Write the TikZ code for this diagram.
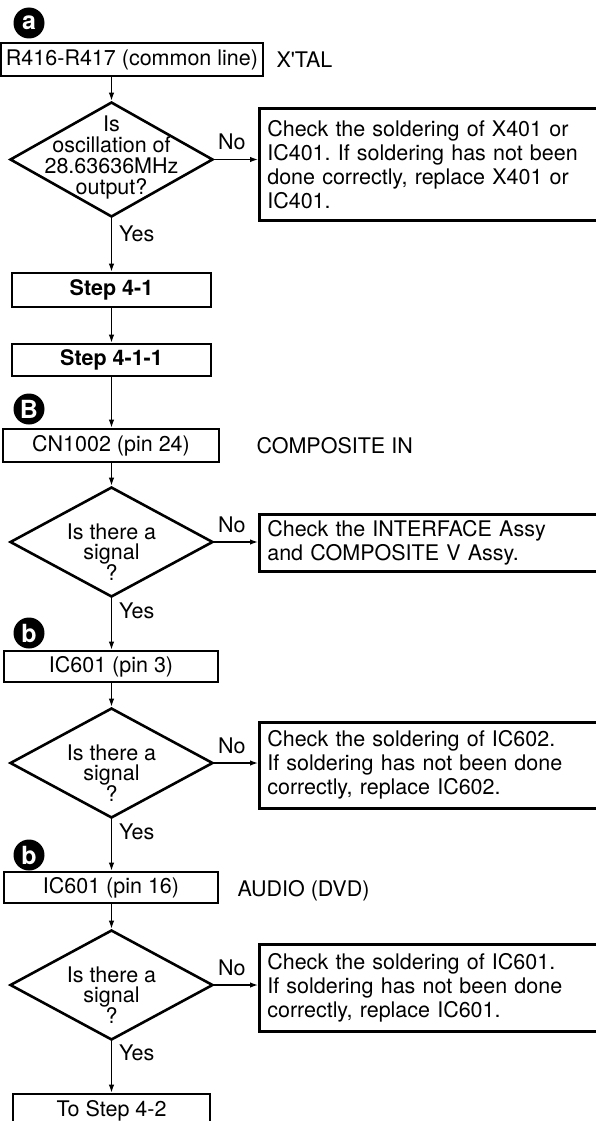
\documentclass[tikz,border=0pt]{standalone}
\usepackage{fontspec}
\setmainfont{TeX Gyre Heros}
\usetikzlibrary{arrows.meta,positioning,shapes.geometric}
\frenchspacing

\tikzset{
  stepbox/.style={draw, line width=2.6pt, inner sep=0pt, font=\fontsize{21.5}{24}\selectfont},
  checkbox/.style={draw, line width=2.6pt, anchor=north west, align=left, inner xsep=8pt,
    inner ysep=0pt, text width=344pt, font=\fontsize{21.5}{24}\selectfont},
  query/.style={diamond, draw, line width=2.6pt, inner sep=0pt, minimum width=203pt},
  querytext/.style={align=center, inner sep=0pt, font=\fontsize{21.5}{20.7}\selectfont},
  badge/.style={circle, fill=black, text=white, inner sep=0pt, minimum size=31pt,
    font=\fontsize{25}{25}\bfseries\selectfont},
  flow/.style={line width=1.3pt, -{Latex[length=8pt,width=5.5pt]}},
  lbl/.style={inner sep=0pt, font=\fontsize{21.5}{24}\selectfont},
}

\begin{document}
\begin{tikzpicture}[x=1pt,y=-1pt]
  \useasboundingbox (0,0) rectangle (596,1121);
  \clip (0,0) rectangle (596,1121);

  % crystal check
  \node[badge] (ba) at (29,23) {a};
  \node[stepbox, minimum width=262pt, minimum height=33pt] (r416) at (132,59.5) {R416-R417 (common line)};
  \node[lbl, right=12pt of r416] (xtal) {X\textquotesingle TAL};
  \node[query, minimum height=115pt] (d1) at (111.5,159.5) {};
  \node[querytext] (d1t) at ([yshift=2pt]d1.center) {Is\\oscillation of\\28.63636MHz\\output?};
  \node[checkbox, minimum height=112pt] (n1) at (258,107)
    {Check the soldering of X401 or\\IC401. If soldering has not been\\done correctly, replace X401 or\\IC401.};

  \node[stepbox, minimum width=199pt, minimum height=34pt] (s41) at (111.5,290) {\textbf{Step 4-1}};
  \node[stepbox, minimum width=199pt, minimum height=32pt] (s411) at (111.5,360) {\textbf{Step 4-1-1}};

  % composite in
  \node[badge] (bB) at (29,409) {B};
  \node[stepbox, minimum width=216pt, minimum height=33pt] (cn) at (111,445.5) {CN1002 (pin 24)};
  \node[lbl, right=36pt of cn] (comp) {COMPOSITE IN};
  \node[query, minimum height=110pt] (d2) at (111.5,542) {};
  \node[querytext] (d2t) at ([yshift=-10pt]d2.center) {Is there a\\signal\\?};
  \node[checkbox, minimum height=57pt] (n2) at (258,513)
    {Check the INTERFACE Assy\\and COMPOSITE V Assy.};

  % IC601 pin 3
  \node[badge] (bb1) at (29,633) {b};
  \node[stepbox, minimum width=214pt, minimum height=31pt] (ic3) at (111,666.5) {IC601 (pin 3)};
  \node[query, minimum height=110pt] (d3) at (111.5,763) {};
  \node[querytext] (d3t) at ([yshift=-10pt]d3.center) {Is there a\\signal\\?};
  \node[checkbox, minimum height=86pt] (n3) at (258,721)
    {Check the soldering of IC602.\\If soldering has not been done\\correctly, replace IC602.};

  % IC601 pin 16
  \node[badge] (bb2) at (29,855) {b};
  \node[stepbox, minimum width=214pt, minimum height=31pt] (ic16) at (111,887.5) {IC601 (pin 16)};
  \node[lbl, right=18pt of ic16, yshift=-3pt] (audio) {AUDIO (DVD)};
  \node[query, minimum height=110pt] (d4) at (111.5,985) {};
  \node[querytext] (d4t) at ([yshift=-10pt]d4.center) {Is there a\\signal\\?};
  \node[checkbox, minimum height=87pt] (n4) at (258,943)
    {Check the soldering of IC601.\\If soldering has not been done\\correctly, replace IC601.};

  \node[stepbox, minimum width=197pt, minimum height=33pt] (s42) at (111.5,1110.5) {To Step 4-2};

  % connectors
  \draw[flow] (r416.south -| d1.north) -- (d1.north);
  \draw[flow] (d1.east) -- node[lbl, above=9pt, pos=0.4] (no1) {No} (d1.east -| n1.west);
  \draw[flow] (d1.south) -- node[lbl, right=7pt, pos=0.3] (yes1) {Yes} (d1.south |- s41.north);
  \draw[flow] (s41.south) -- (s411.north);
  \draw[flow] (s411.south) -- (s411.south |- cn.north);
  \draw[flow] (cn.south -| d2.north) -- (d2.north);
  \draw[flow] (d2.east) -- node[lbl, above=9pt, pos=0.4] (no2) {No} (d2.east -| n2.west);
  \draw[flow] (d2.south) -- node[lbl, right=7pt, pos=0.24] (yes2) {Yes} (d2.south |- ic3.north);
  \draw[flow] (ic3.south -| d3.north) -- (d3.north);
  \draw[flow] (d3.east) -- node[lbl, above=9pt, pos=0.4] (no3) {No} (d3.east -| n3.west);
  \draw[flow] (d3.south) -- node[lbl, right=7pt, pos=0.24] (yes3) {Yes} (d3.south |- ic16.north);
  \draw[flow] (ic16.south -| d4.north) -- (d4.north);
  \draw[flow] (d4.east) -- node[lbl, above=9pt, pos=0.4] (no4) {No} (d4.east -| n4.west);
  \draw[flow] (d4.south) -- node[lbl, right=7pt, pos=0.22] (yes4) {Yes} (d4.south |- s42.north);
\end{tikzpicture}
\end{document}
